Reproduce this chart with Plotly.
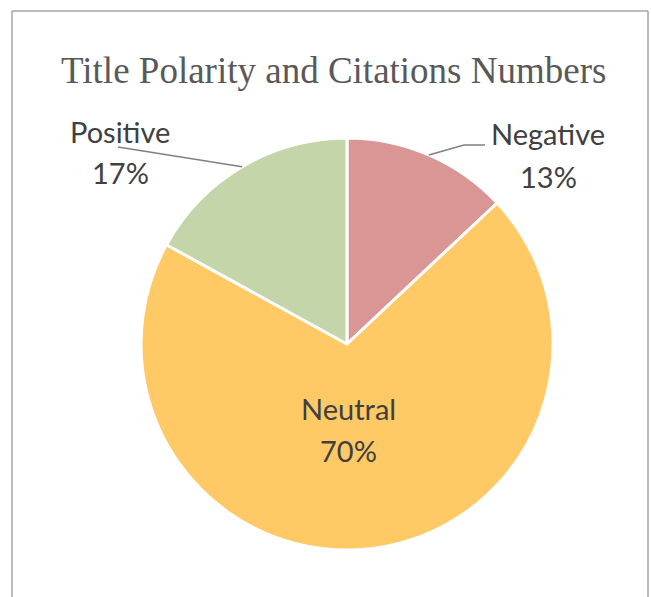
import math
import plotly.graph_objects as go

# Data
labels = ["Negative", "Neutral", "Positive"]
values = [13, 70, 17]
colors = ["#D99694", "#FFCA65", "#C4D6A9"]

W, H = 651, 597
CX, CY, R = 347, 344, 206  # pie centre / radius in pixels


def px(x):
    return x / W


def py(y):
    return 1 - y / H


fig = go.Figure(
    go.Pie(
        labels=labels,
        values=values,
        sort=False,
        direction="clockwise",
        rotation=0,
        textinfo="none",
        hoverinfo="label+percent",
        marker=dict(colors=colors, line=dict(color="white", width=3)),
        domain=dict(x=[px(CX - R), px(CX + R)], y=[py(CY + R), py(CY - R)]),
        showlegend=False,
    )
)

total = sum(values)
pcts = [round(100 * v / total) for v in values]

# mid-angle (clockwise from 12 o'clock) of each slice
mids = []
acc = 0
for v in values:
    mids.append((acc + v / 2) / total * 2 * math.pi)
    acc += v


def edge(i):
    a = mids[i]
    return CX + R * math.sin(a), CY - R * math.cos(a)


font_lbl = dict(family="Lato, Carlito, sans-serif", size=29, color="#404040")

# label placement (pixels): name line centre, percent line centre
label_pos = {
    "Negative": ((548, 133), (548, 176)),
    "Neutral": ((348, 408), (348, 450)),
    "Positive": ((120, 131), (120, 172)),
}

annotations = []
for lab, p in zip(labels, pcts):
    (nx, ny), (qx, qy) = label_pos[lab]
    annotations.append(dict(x=px(nx), y=py(ny), xref="paper", yref="paper",
                            text=lab, showarrow=False, font=font_lbl,
                            xanchor="center", yanchor="middle"))
    annotations.append(dict(x=px(qx), y=py(qy), xref="paper", yref="paper",
                            text=f"{p}%", showarrow=False, font=font_lbl,
                            xanchor="center", yanchor="middle"))

annotations.append(dict(x=px(333), y=py(70), xref="paper", yref="paper",
                        text="Title Polarity and Citations Numbers", showarrow=False,
                        font=dict(family="Liberation Serif, Times New Roman, serif",
                                  size=37, color="#595959"),
                        xanchor="center", yanchor="middle"))

shapes = []
# leader lines
ex, ey = edge(0)
path_neg = [(ex, ey), (464, 145), (485, 145)]
ex, ey = edge(2)
path_pos = [(ex, ey), (118, 147)]
for path in (path_neg, path_pos):
    d = "M " + " L ".join(f"{px(x)},{py(y)}" for x, y in path)
    shapes.append(dict(type="path", path=d, xref="paper", yref="paper",
                       line=dict(color="#808080", width=1.5)))

# chart frame
for x0, y0, x1, y1 in [(12, 11, 648, 11), (12, 11, 12, 600), (648, 11, 648, 600)]:
    shapes.append(dict(type="line", xref="paper", yref="paper",
                       x0=px(x0), y0=py(y0), x1=px(x1), y1=py(y1),
                       line=dict(color="#A6A6A6", width=1.5)))

fig.update_layout(
    width=W, height=H,
    margin=dict(l=0, r=0, t=0, b=0),
    paper_bgcolor="white",
    plot_bgcolor="white",
    annotations=annotations,
    shapes=shapes,
)

fig.write_html("out.html")
